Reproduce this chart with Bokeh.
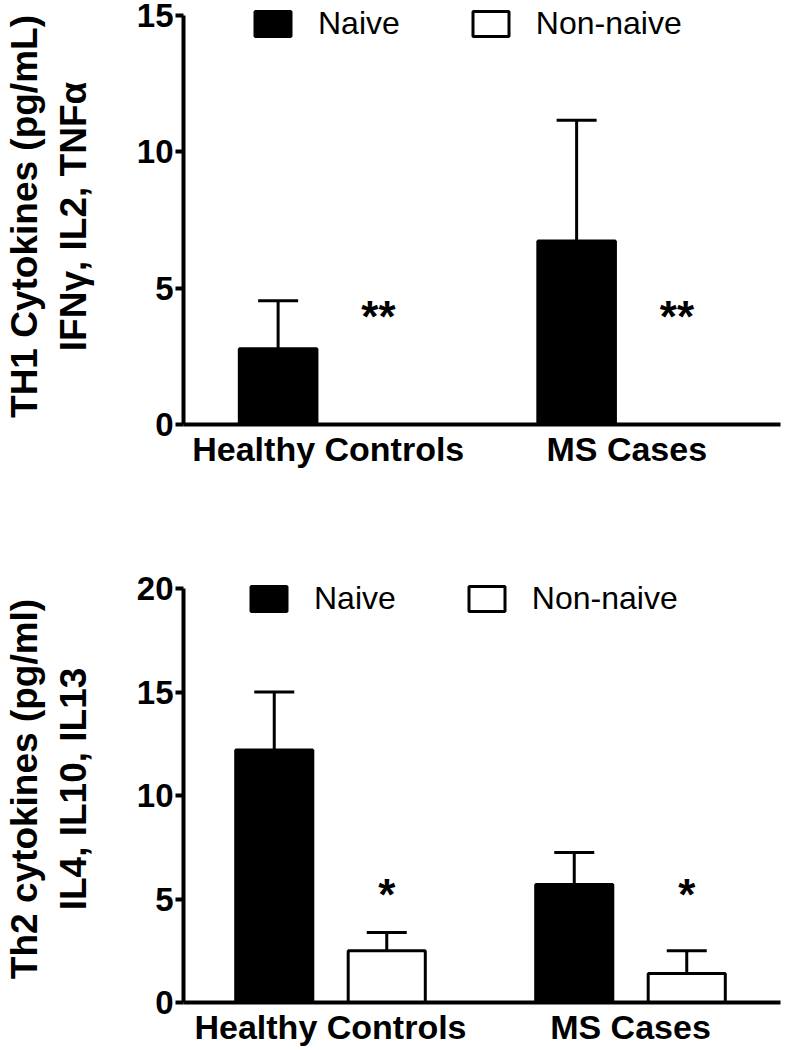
from bokeh.plotting import figure
from bokeh.models import (ColumnDataSource, Whisker, TeeHead, Legend, LegendItem,
                          FixedTicker, Range1d)
from bokeh.layouts import column
from bokeh.embed import file_html
from bokeh.resources import INLINE
from bokeh.core.properties import value

# ---------------- data ----------------
groups = ["Healthy Controls", "MS Cases"]
series = ["Naive", "Non-naive"]

th1_naive = [2.78, 6.73]
th1_naive_err = [1.76, 4.43]
th1_nonnaive = [0.0, 0.0]
th1_nonnaive_err = [0.0, 0.0]
th1_sig = ["**", "**"]
th1_sig_y = [3.95, 3.95]
th1_yticks = [0, 5, 10, 15]

th2_naive = [12.2, 5.7]
th2_naive_err = [2.8, 1.55]
th2_nonnaive = [2.5, 1.4]
th2_nonnaive_err = [0.88, 1.1]
th2_sig = ["*", "*"]
th2_sig_y = [5.2, 5.2]
th2_yticks = [0, 5, 10, 15, 20]

FONT = "Liberation Sans"


def make_chart(naive, naive_err, nonnaive, nonnaive_err, sig, sig_y, yticks,
               ylabel, height, top_border, bottom_border, right_border, y_end,
               x_start, x_end, offset, bar_width, legend_pos):
    p = figure(width=785, height=height, output_backend="svg", toolbar_location=None,
               x_range=Range1d(x_start, x_end), y_range=Range1d(0, y_end),
               min_border_left=183, min_border_right=right_border, min_border_top=top_border,
               min_border_bottom=bottom_border)
    p.outline_line_color = None
    p.xgrid.grid_line_color = None
    p.ygrid.grid_line_color = None
    p.background_fill_color = None
    p.border_fill_color = "white"

    idx = list(range(len(groups)))
    x_naive = [i - offset for i in idx]
    x_non = [i + offset for i in idx]

    r_naive = p.vbar(x=x_naive, top=naive, bottom=0, width=bar_width,
                     fill_color="black", line_color="black", line_width=3)
    r_non = p.vbar(x=x_non, top=nonnaive, bottom=0, width=bar_width,
                   fill_color="white", line_color="black", line_width=3)

    xs, lo, up = [], [], []
    for xx, v, e in list(zip(x_naive, naive, naive_err)) + list(zip(x_non, nonnaive, nonnaive_err)):
        if e > 0:
            xs.append(xx); lo.append(v); up.append(v + e)
    wsrc = ColumnDataSource(dict(x=xs, lower=lo, upper=up))
    w = Whisker(source=wsrc, base="x", lower="lower", upper="upper", dimension="height",
                line_width=3, line_color="black",
                upper_head=TeeHead(size=40, line_width=3, line_color="black"),
                lower_head=None, level="underlay")
    p.add_layout(w)

    p.text(x=x_non, y=sig_y, text=sig, text_align="center", text_baseline="alphabetic",
           text_font=value(FONT), text_font_style="bold", text_font_size="44px",
           text_color="black")

    # y axis
    ya = p.yaxis[0]
    ya.ticker = FixedTicker(ticks=yticks)
    ya.bounds = (0, yticks[-1])
    ya.axis_line_width = 4
    ya.axis_line_color = "black"
    ya.major_tick_line_width = 4
    ya.major_tick_line_color = "black"
    ya.major_tick_out = 8
    ya.major_tick_in = 0
    ya.minor_tick_out = 0
    ya.minor_tick_in = 0
    ya.major_label_text_font = FONT
    ya.major_label_text_font_style = "bold"
    ya.major_label_text_font_size = "33px"
    ya.major_label_text_color = "black"
    ya.major_label_standoff = 2
    ya.axis_label = ylabel
    ya.axis_label_text_font = FONT
    ya.axis_label_text_font_style = "bold"
    ya.axis_label_text_font_size = "37px"
    ya.axis_label_text_color = "black"
    ya.axis_label_standoff = 40

    # x axis
    xa = p.xaxis[0]
    xa.ticker = FixedTicker(ticks=idx)
    xa.major_label_overrides = {i: g for i, g in zip(idx, groups)}
    xa.axis_line_width = 4
    xa.axis_line_color = "black"
    xa.major_tick_out = 0
    xa.major_tick_in = 0
    xa.minor_tick_out = 0
    xa.minor_tick_in = 0
    xa.major_label_text_font = FONT
    xa.major_label_text_font_style = "bold"
    xa.major_label_text_font_size = "34px"
    xa.major_label_text_color = "black"
    xa.major_label_standoff = 5

    legend = Legend(items=[LegendItem(label=series[0], renderers=[r_naive]),
                           LegendItem(label=series[1], renderers=[r_non])],
                    orientation="horizontal", location=legend_pos,
                    glyph_width=45, glyph_height=31, label_height=31,
                    label_standoff=23, spacing=68, padding=0, margin=0,
                    border_line_color=None, background_fill_alpha=0,
                    label_text_font=FONT, label_text_font_size="32px",
                    label_text_color="black")
    p.add_layout(legend)
    return p


p1 = make_chart(th1_naive, th1_naive_err, th1_nonnaive, th1_nonnaive_err, th1_sig, th1_sig_y,
                th1_yticks, "TH1 Cytokines (pg/mL)\nIFN\u03b3, IL2, TNF\u03b1",
                height=470, top_border=8, bottom_border=45, right_border=2, y_end=15.26,
                x_start=-0.485, x_end=1.515, offset=0.168, bar_width=0.26,
                legend_pos=(67, 382))

p2 = make_chart(th2_naive, th2_naive_err, th2_nonnaive, th2_nonnaive_err, th2_sig, th2_sig_y,
                th2_yticks, "Th2 cytokines (pg/ml)\nIL4, IL10, IL13",
                height=580, top_border=105, bottom_border=48, right_border=5, y_end=20.63,
                x_start=-0.49, x_end=1.5, offset=0.1875, bar_width=0.257,
                legend_pos=(63, 385))

layout = column(p1, p2)
open("out.html", "w").write(file_html(layout, INLINE))
